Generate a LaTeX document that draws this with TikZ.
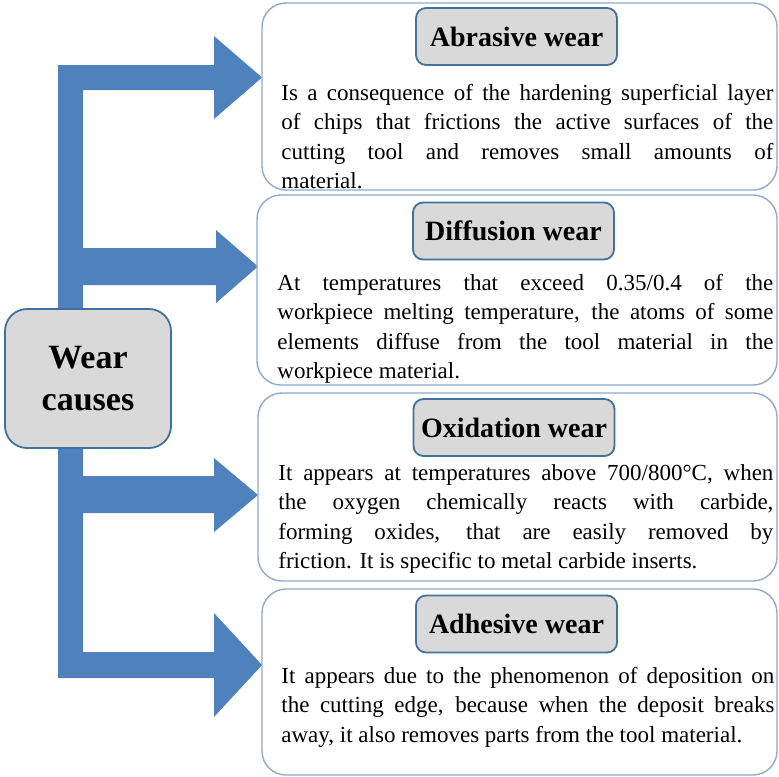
\documentclass[tikz,border=0pt]{standalone}
\usepackage{fontspec}
\setmainfont{Liberation Serif}
\usetikzlibrary{positioning}
\definecolor{arrowblue}{HTML}{4F81BD}
\definecolor{edgeblue}{HTML}{41719C}
\definecolor{paleblue}{HTML}{8FAACC}
\definecolor{titlegray}{HTML}{D9D9D9}
\tolerance=9999
\hyphenpenalty=10000
\tikzset{
  causebox/.style={draw=edgeblue, line width=0.9pt, fill=titlegray, rounded corners=11pt,
    minimum width=83pt, minimum height=69.5pt, inner sep=0pt, align=center,
    font=\fontsize{17}{21}\selectfont\bfseries},
  wearbox/.style={draw=paleblue, line width=0.7pt, fill=white, rounded corners=12pt, inner sep=0pt},
  titlebox/.style={draw=edgeblue, line width=0.9pt, fill=titlegray, rounded corners=5pt,
    minimum width=100.5pt, minimum height=28.5pt, inner sep=0pt,
    font=\fontsize{14}{16}\selectfont\bfseries},
  bodytext/.style={anchor=base west, inner sep=0pt, text width=#1, align=justify,
    font=\fontsize{11.5}{14.75}\selectfont}
}
\begin{document}
\begin{tikzpicture}[x=0.5pt,y=-0.5pt]
  \useasboundingbox (0,0) rectangle (779,776);

  % block arrows
  \fill[arrowblue] (58,678) -- (58,65) -- (214,65) -- (214,36) -- (262,77.5) -- (214,119)
    -- (214,90) -- (83,90) -- (83,652) -- (214,652) -- (214,613) -- (262,665)
    -- (214,717) -- (214,678) -- cycle;
  \fill[arrowblue] (83,248) -- (216,248) -- (216,230) -- (258,266.5) -- (216,303)
    -- (216,285) -- (83,285) -- cycle;
  \fill[arrowblue] (83,476) -- (214,476) -- (214,458) -- (258,495) -- (214,532)
    -- (214,513) -- (83,513) -- cycle;

  \node[causebox] (W) at (88,378.5) {Wear\\causes};

  \node[wearbox, minimum width=257.5pt, minimum height=93.5pt] (B1) at (519.5,96.5) {};
  \node[wearbox, minimum width=260pt, minimum height=95pt] (B2) at (517,290) {};
  \node[wearbox, minimum width=259.5pt, minimum height=94pt] (B3) at (517.5,487) {};
  \node[wearbox, minimum width=257.5pt, minimum height=93pt] (B4) at (519.5,682) {};

  \node[titlebox] (T1) at (516.5,36.5) {Abrasive wear};
  \node[titlebox] (T2) at (513.5,231) {Diffusion wear};
  \node[titlebox] (T3) at (514,427.5) {Oxidation wear};
  \node[titlebox] (T4) at (516.5,624) {Adhesive wear};

  \node[bodytext=246pt] (P1) at (281,100) {Is a consequence of the hardening superficial layer\linebreak
    of chips that frictions the active surfaces of the\linebreak
    cutting tool and removes small amounts of\linebreak
    material.};
  \node[bodytext=248pt] (P2) at (277,290) {At temperatures that exceed 0.35/0.4 of the\linebreak
    workpiece melting temperature, the atoms of some\linebreak
    elements diffuse from the tool material in the\linebreak
    workpiece material.};
  \node[bodytext=247.5pt] (P3) at (278,480) {It appears at temperatures above 700/800°C, when\linebreak
    the oxygen chemically reacts with carbide,\linebreak
    forming oxides, that are easily removed by\linebreak
    friction. It is specific to metal carbide inserts.};
  \node[bodytext=246.5pt] (P4) at (281,683) {It appears due to the phenomenon of deposition on\linebreak
    the cutting edge, because when the deposit breaks\linebreak
    away, it also removes parts from the tool material.};
\end{tikzpicture}
\end{document}
